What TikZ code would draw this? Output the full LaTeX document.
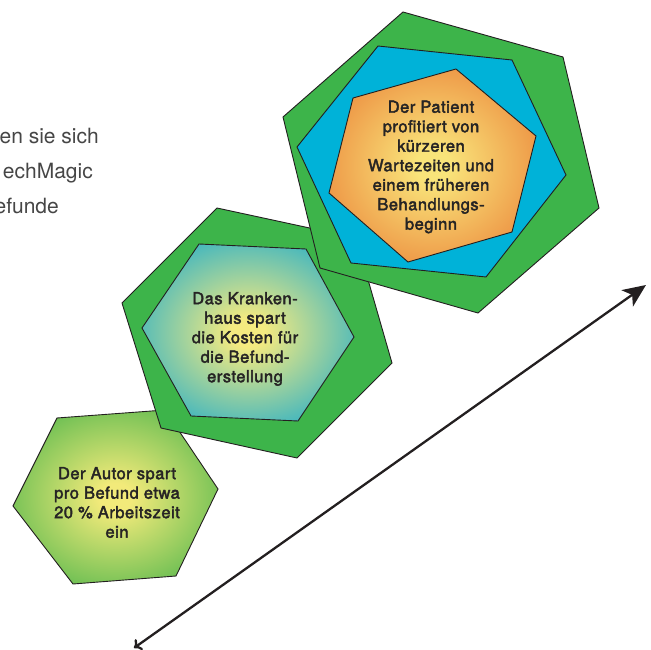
\documentclass[tikz,border=0pt]{standalone}
\usepackage{fontspec}
\setmainfont{TeX Gyre Heros}
\newfontfamily\hexfont[FakeBold=2.4,LetterSpace=3]{TeX Gyre Heros}
\usetikzlibrary{arrows.meta}
\definecolor{hexgreen}{RGB}{61,180,74}
\definecolor{hexblue}{RGB}{0,178,216}
\definecolor{hexedge}{RGB}{35,31,32}
\definecolor{hextxt}{RGB}{38,36,36}
\definecolor{pagetxt}{RGB}{70,70,70}
\definecolor{oyel}{RGB}{249,228,122}
\definecolor{oorange}{RGB}{232,112,44}
\definecolor{myel}{RGB}{244,234,128}
\definecolor{mblue}{RGB}{10,166,210}
\definecolor{syel}{RGB}{242,234,122}
\definecolor{sgreen}{RGB}{56,174,68}
\pgfdeclareradialshading{orangerad}{\pgfpoint{0bp}{0bp}}{color(0bp)=(oyel);color(4bp)=(oyel);color(38bp)=(oorange);color(50bp)=(oorange)}
\pgfdeclareradialshading{bluerad}{\pgfpoint{0bp}{0bp}}{color(0bp)=(myel);color(4bp)=(myel);color(36bp)=(mblue);color(50bp)=(mblue)}
\pgfdeclareradialshading{greenrad}{\pgfpoint{0bp}{0bp}}{color(0bp)=(syel);color(4bp)=(syel);color(37bp)=(sgreen);color(50bp)=(sgreen)}
\begin{document}
\begin{tikzpicture}[x=1pt,y=-1pt,
  hexline/.style={draw=hexedge, line width=0.9pt, line join=miter},
  hextext/.style={font=\hexfont\fontsize{16.5}{19.5}\selectfont, text=hextxt, align=center, inner sep=0pt},
  pagetext/.style={font=\fontsize{21}{24}\selectfont, text=pagetxt, anchor=base east, inner sep=0pt},
  bigarrow/.style={draw=hexedge, line width=2.3pt, {To[length=7pt,width=13pt]}-{Stealth[length=23pt,width=20pt,inset=6pt]}}]
\useasboundingbox (0,0) rectangle (651,650);
\begin{scope}
\clip (0,0) rectangle (651,650);
% cut-off page text
\node[pagetext] (t1) at (99,144) {en sie sich};
\node[pagetext] (t2) at (93,178.5) {echMagic};
\node[pagetext] (t3) at (59,213) {efunde};
% small hexagon
\path[hexline, shading=greenrad] (57,418) -- (165,410) -- (218,489) -- (176,576) -- (73,584) -- (13,506) -- cycle;
\node[hextext] (autor) at (117,502.5) {Der Autor spart\\pro Befund etwa\\20 \% Arbeitszeit\\ein};
% middle hexagon
\path[hexline, fill=hexgreen] (217,208) -- (356,238) -- (392,363) -- (297,458) -- (161,428) -- (122,303) -- cycle;
\path[hexline, shading=bluerad] (199,244) -- (306,249) -- (354,337) -- (298,421) -- (191,416) -- (142,328) -- cycle;
\node[hextext] (haus) at (245,339) {Das Kranken-\\haus spart\\die Kosten für\\die Befund-\\erstellung};
% big hexagon
\path[hexline, fill=hexgreen] (403,12) -- (563,57) -- (599,208) -- (478,313) -- (320,268) -- (283,117) -- cycle;
\path[hexline, fill=hexblue] (378,46) -- (512,60) -- (566,175) -- (486,277) -- (351,263) -- (297,147) -- cycle;
\path[hexline, shading=orangerad] (456,69) -- (536,136) -- (512,232) -- (408,262) -- (329,193) -- (353,98) -- cycle;
\node[hextext] (patient) at (431,167) {Der Patient\\profitiert von\\kürzeren\\Wartezeiten und\\einem früheren\\Behandlungs-\\beginn};
% arrow
\coordinate (tail) at (134,648);
\coordinate (tip) at (646,285);
\draw[bigarrow] (tail) -- (tip);
\end{scope}
\end{tikzpicture}
\end{document}
